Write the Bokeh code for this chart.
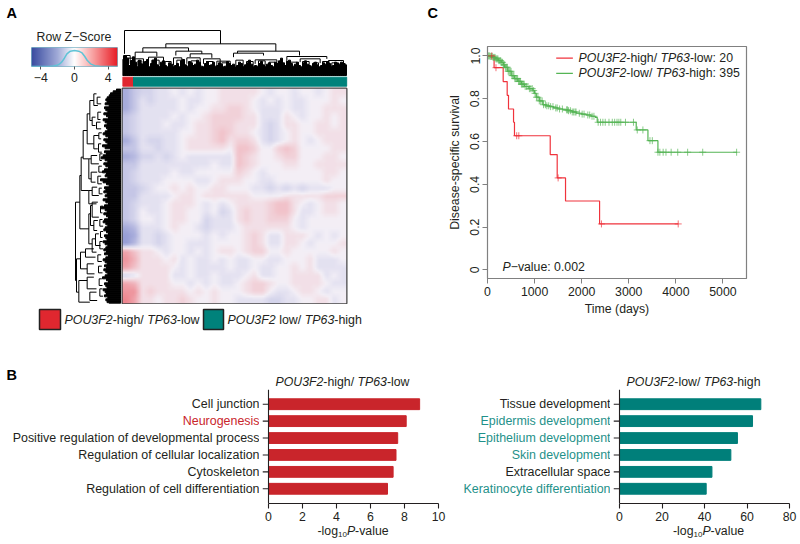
import numpy as np
from bokeh.core.properties import value
from bokeh.embed import file_html
from bokeh.resources import INLINE
from bokeh.layouts import column, row
from bokeh.models import FactorRange, FixedTicker, Label, LinearColorMapper, Range1d, Span
from bokeh.plotting import figure

FONT = "Liberation Sans"
INK = "#231f20"
RED_BAR = "#c9252b"
TEAL_BAR = "#007f7a"
TEAL_TXT = "#1f918a"

# ---------------- data ----------------
heat = [
[-5,-3,-2,-2,-1,-1,0,-1,0,-1,0,0,1,1, 1,1,1,0,-1,0,0,-1,0,0,-1,0,1,1],
[-5,-3,-1,-2,-1,-1,-1,0,-1,-1,0,0,1,1, 1,1,0,-1,0,-1,0,-1,-1,0,0,0,1,0],
[-5,-3,-1,-1,-1,-1,-1,0,-1,0,0,1,1,2, 2,1,0,-1,-1,-1,0,-1,-1,0,0,1,1,1],
[-3,-2,-1,-1,-1,-1,0,-1,0,0,1,2,2,2, 2,1,1,-1,-1,-1,1,0,-1,0,0,1,0,1],
[-3,-2,-1,-1,-1,0,-1,-1,0,1,1,2,2,2, 1,1,1,-1,-2,-1,1,1,0,0,1,1,0,1],
[-3,-2,-1,-1,-1,-1,-1,0,0,1,1,2,3,2, 1,1,0,-1,-2,-1,0,1,0,0,1,1,1,1],
[-5,-3,-1,-2,-2,-1,-1,0,1,1,1,2,3,1, 2,2,1,-1,-2,-1,0,1,0,-1,0,1,1,1],
[-3,-3,-1,-1,-2,-1,-1,0,1,1,1,1,1,0, 3,3,2,0,0,2,3,2,0,0,0,0,1,1],
[-5,-4,-2,-2,-1,-2,-1,0,-1,-1,-1,-1,-1,-1, 3,2,1,0,0,1,2,2,0,0,0,1,1,0],
[-3,-3,-1,-1,-1,-1,-1,-1,-1,-1,-1,0,-1,-1, 3,2,1,0,0,0,1,1,0,0,1,1,1,1],
[-3,-2,-1,-1,-1,-1,0,-1,-1,0,0,0,0,0, 2,1,0,-1,0,0,0,0,0,0,0,1,1,0],
[-3,-2,-1,-1,-1,0,0,0,0,-1,-1,0,1,1, 1,0,0,-1,-1,0,0,0,0,0,0,1,0,0],
[-3,-3,-2,-1,0,0,1,0,1,0,0,1,1,0, 0,0,-1,-1,-2,-1,-2,-1,-2,-1,-1,-1,0,0],
[-3,-3,-1,-1,-1,-1,0,1,1,0,1,1,1,1, 1,1,0,0,0,0,1,1,1,1,1,2,2,2],
[-3,-2,-1,-1,-1,0,1,1,1,0,-1,0,-1,0, 1,1,1,1,2,3,3,1,0,-1,0,1,1,0],
[-3,-2,0,-1,-1,0,1,1,0,0,-1,0,-2,-1, 1,2,1,1,2,3,3,1,-1,-1,0,1,1,0],
[-3,-2,0,0,-1,0,1,1,0,0,-2,-1,-1,-1, 1,2,1,1,2,2,2,0,-1,0,0,0,0,0],
[-5,-4,-1,-1,-1,0,1,0,0,-1,-2,-1,-1,-1, 0,1,1,1,1,1,1,0,-1,0,0,0,0,0],
[-6,-5,-1,-1,-2,-1,0,0,0,0,-1,0,-1,0, 0,1,2,1,-1,-1,1,1,1,0,-1,0,-1,0],
[-6,-4,-1,-1,-2,-1,0,0,-1,-1,-1,0,0,0, 0,1,2,1,-1,-1,1,1,0,-1,0,0,0,1],
[5,3,1,1,0,-1,0,0,-1,0,-1,0,1,1, 0,1,2,2,0,0,1,0,0,0,0,0,1,0],
[6,4,1,1,1,0,1,-1,0,-1,-1,0,-1,0, -1,-1,0,0,-1,-1,0,0,0,1,-1,-1,-1,0],
[5,3,1,1,1,1,0,-1,0,-1,-1,-1,-1,0, -1,-1,0,-1,-1,0,0,1,0,1,-1,-1,-1,-1],
[-2,-1,1,1,1,1,-1,-1,0,-1,-1,0,-1,-1, -1,0,1,-1,-1,0,0,1,1,1,1,-1,0,-1],
[5,4,1,1,1,1,0,0,-1,0,-1,0,-1,-1, 0,1,2,2,1,0,0,1,1,1,1,0,-1,-1],
[6,6,1,2,1,1,1,1,0,1,0,1,0,0, 0,1,2,2,0,-1,-1,0,1,1,0,-1,0,0],
[7,5,1,1,0,1,1,2,1,0,0,1,0,0, -1,-1,-1,-1,-2,-2,-1,-1,0,0,1,1,-1,0],
]

# top dendrogram: (left, right, height, left child height, right child height)
top_links = [
(6,294,135,65,95),(130,460,95,83,73),(61,198,83,70,73),(345,531,73,67,60),
(38,103,70,50,57),(160,238,73,60,65),(203,268,65,55,53),(333,423,67,55,60),
(493,613,57,40,50),(533,593,50,40,37),(618,663,45,35,35),(398,463,47,35,35),
(78,123,55,35,30),(193,233,53,35,35),(243,293,50,35,30),(3,23,60,30,35),
(38,63,50,35,30),(153,178,53,30,35),(283,323,43,30,25),
(12,30,52,34,30),(46,58,44,30,28),(88,110,46,30,32),(128,146,42,28,30),(163,186,46,30,28),
(206,222,44,28,30),(252,272,42,28,26),(298,316,38,26,28),(340,362,46,28,30),(372,392,42,28,26),
(408,428,44,28,30),(440,458,40,26,28),(502,524,40,28,30),(540,560,42,28,26),(572,588,38,28,26),
(600,620,42,26,28),(628,648,38,26,28),(652,668,36,26,26),
]
top_envelope = [48,60,52,30,45,56,40,28,46,35,30,42,48,26,36,46,52,32,28,40,44,30,26,38,
34,28,30,36,26,44,48,32,28,42,38,30,34,46,40,28,26,36,42,30,32,40,28,30,38,34,
26,28,42,36,30,34,26,30,40,36,28,32,38,46,34,26,30,28,36,42,32,28,34,38,30,26,
40,36,44,52,38,30,42,46,36,28,34,40,30,26,38,44,34,30,28,36,40,32,26,30,38,34,
42,36,28,30,40,36,32,40,36,32]

# left dendrogram: (height, top, bottom, top child height, bottom child height)
left_links = [
(135,340,575,122,132),(122,260,420,118,95),(118,205,305,112,95),(112,125,210,100,95),
(100,75,165,92,80),(92,35,95,80,85),(85,85,110,75,75),(80,15,50,72,68),
(80,140,180,65,68),(95,210,270,88,88),(88,200,225,70,65),(88,250,280,70,75),
(95,305,345,85,72),(85,295,320,70,65),(95,375,465,90,85),(90,350,410,85,80),
(85,340,385,68,65),(80,395,425,68,70),(85,450,490,75,72),(75,435,470,65,60),
(132,510,610,120,125),(120,490,540,105,100),(125,575,640,100,92),(105,480,505,80,75),
(100,525,555,80,78),(100,565,600,80,72),(92,610,635,72,70),
(70,25,45,60,58),(68,70,92,58,60),(72,100,120,60,58),(65,132,150,56,58),(66,165,190,58,56),
(62,195,215,54,56),(65,232,250,56,54),(68,262,285,58,56),(64,298,315,56,54),(60,352,372,52,54),
(62,392,412,54,52),(60,428,446,52,54),(62,458,480,54,52),(68,498,518,58,56),(66,532,552,56,54),
(64,570,590,56,54),(62,600,622,54,52),
]
left_envelope = [12,22,30,34,40,44,40,46,34,48,44,38,50,42,36,52,46,40,48,42,38,46,52,44,
36,50,44,38,54,46,30,48,42,52,58,46,38,50,44,36,48,54,42,46,38,60,52,42,34,48,44,
50,40,46,38,52,44,36,48,58,46,40,50,42,36,48,52,44,38,46,50,42,36,48,44,40,52,46,
38,44,50,42,48,36,44,52,46,40,48,42,50,44,38,46,54,42,36,48,44,40,52,46,42,48,38,44,40,34]

key_z = [-5.1,-3.2,-2.9,-2.5,-2.1,-1.8,-1.5,-1.2,-0.9,-0.5,0.0,0.5,0.9,1.2,1.5,1.9,2.4,3.0,5.1]
key_density = [0.0,0.0,0.01,0.03,0.07,0.14,0.28,0.50,0.76,0.93,0.97,0.93,0.82,0.62,0.38,0.16,0.05,0.01,0.0]
key_ticks = [-4, 0, 4]

red_x = [0,140,333,418,446,553,573,1332,1480,1657,2380,4050]
red_y = [1.0,0.945,0.88,0.816,0.752,0.69,0.627,0.539,0.43,0.322,0.215,0.215]
red_censor = [90,180,620,665,1500,2420,4050]

green_x = [0,50,114,170,230,291,340,362,430,503,570,645,720,787,880,965,1000,1034,1100,1176,1240,1318,1400,
           1495,1600,1708,1800,1885,2000,2097,2200,2288,2330,3158,3407,3619,5300]
green_y = [1.0,0.998,0.993,0.986,0.978,0.970,0.958,0.947,0.928,0.908,0.894,0.881,0.868,0.857,0.847,0.838,
           0.825,0.807,0.790,0.772,0.767,0.763,0.757,0.752,0.748,0.744,0.738,0.732,0.728,0.724,0.718,0.713,
           0.690,0.654,0.604,0.55,0.55]
green_censor = [20,40,60,80,100,120,140,160,180,200,220,240,260,280,300,320,340,360,380,400,420,440,460,480,
                500,520,540,560,580,600,620,640,660,680,700,720,740,760,780,800,830,860,890,920,950,980,1010,
                1040,1070,1100,1130,1160,1190,1230,1260,1300,1340,1390,1450,1480,1530,1590,1680,1700,1720,1760,
                1800,1830,1860,1880,1950,2010,2050,2130,2170,2220,2260,2350,2400,2450,2500,2580,2650,2700,2750,
                2790,2830,2930,3100,3180,3300,3450,3500,3620,3660,3730,3790,3900,4040,4250,4570,5290]
surv_xticks = [0,1000,2000,3000,4000,5000]
surv_yticks = [0,0.2,0.4,0.6,0.8,1.0]

terms_high = ["Cell junction","Neurogenesis","Positive regulation of developmental process",
              "Regulation of cellular localization","Cytoskeleton","Regulation of cell differentiation"]
vals_high = [8.89,8.1,7.6,7.5,7.33,7.0]
terms_low = ["Tissue development","Epidermis development","Epithelium development","Skin development",
             "Extracellular space","Keratinocyte differentiation"]
vals_low = [66.5,62.6,55.5,52.4,43.5,40.8]
highlight_high = ["Neurogenesis"]
highlight_low = ["Epidermis development","Epithelium development","Skin development","Keratinocyte differentiation"]

# ---------------- helpers ----------------
AFM = {' ':278,'-':333,'−':584,'/':278,':':278,'.':278,'0':556,'1':556,'2':556,'3':556,'5':556,'6':556,'9':556,'F':611,'O':778,'P':667,'T':611,'U':722,
       'a':556,'e':556,'g':556,'h':556,'i':222,'l':222,'o':556,'u':556,'v':500,'w':722}
def twidth(s, size):
    return sum(AFM.get(c, 556) for c in s) * size / 1000.0

class Box:
    """A figure plus where it sits on the page, so that page pixel positions can be used for labels."""
    def __init__(self, ox, oy, l, r, t, b, fw, fh, x_range=None, y_range=None, **kw):
        self.ox, self.oy, self.l, self.t, self.fh = ox, oy, l, t, fh
        self.p = figure(width=l+fw+r, height=t+fh+b, min_border_left=l, min_border_right=r,
                        min_border_top=t, min_border_bottom=b,
                        x_range=x_range if x_range is not None else Range1d(0, 1),
                        y_range=y_range if y_range is not None else Range1d(0, 1),
                        toolbar_location=None, output_backend="svg", outline_line_color=None,
                        background_fill_color="white", border_fill_color="white", **kw)
        self.p.frame_align = False
        self.p.grid.visible = False
    def text(self, X, Y, s, size=12.3, style="normal", color=INK, align="left", dy=0):
        lab = Label(x=X-self.ox-self.l, y=(self.oy+self.t+self.fh)-(Y+dy), x_units="screen", y_units="screen",
                    text=s, text_font=FONT, text_font_size=f"{size}px", text_font_style=style,
                    text_color=color, text_align=align, text_baseline="middle")
        self.p.add_layout(lab)
    def rich(self, X, Y, segs, size=12.3, color=INK):
        x = X
        for s in segs:
            txt, style = s[0], s[1]
            sz = s[2] if len(s) > 2 else size
            dy = s[3] if len(s) > 3 else 0
            lead = len(txt) - len(txt.lstrip(" "))
            x += twidth(" " * lead, sz)
            body = txt.strip(" ")
            self.text(x, Y, body, size=sz, style=style, color=color, dy=dy)
            x += twidth(txt.lstrip(" "), sz)

NOAX = dict(x_axis_location=None, y_axis_location=None)

def style_axis(ax, color=INK, size="12.3px", tick=5, standoff=3, line=1.0):
    ax.axis_line_color = color
    ax.axis_line_width = line
    ax.major_tick_line_color = color
    ax.major_tick_line_width = line
    ax.major_tick_out = tick
    ax.major_tick_in = 0
    ax.minor_tick_line_color = None
    ax.major_label_text_font = FONT
    ax.major_label_text_font_size = size
    ax.major_label_text_color = INK
    ax.major_label_standoff = standoff

def lerp_palette(stops, n=256):
    xs = np.linspace(0, 1, n)
    pos = [s[0] for s in stops]
    out = []
    for x in xs:
        c = [np.interp(x, pos, [s[1][k] for s in stops]) for k in range(3)]
        out.append("#%02x%02x%02x" % tuple(int(round(v)) for v in c))
    return out

def soften(m, k=4):
    """Display resampling of the coarse matrix, so that cell edges do not read as hard blocks."""
    m = np.array(m, dtype=float)
    ny, nx = m.shape
    yy = (np.arange(ny*k) + 0.5) / k - 0.5
    xx = (np.arange(nx*k) + 0.5) / k - 0.5
    a = np.array([np.interp(yy, np.arange(ny), m[:, j]) for j in range(nx)]).T
    return np.array([np.interp(xx, np.arange(nx), a[i, :]) for i in range(a.shape[0])])

# ---------------- colour key ----------------
strip_a = Box(0, 0, 0, 0, 0, 0, 121, 46, **NOAX)
strip_a.text(6, 12, "A", size=14.5, style="bold", color="black")
strip_a.text(36, 36, "Row Z−Score", size=12.3)

key = Box(0, 46, 31, 4, 1, 21, 86, 19, Range1d(-5.1, 5.1), Range1d(0, 1.15), y_axis_location=None)
key_pal = lerp_palette([(0,(58,76,160)),(0.30,(160,170,215)),(0.5,(255,255,255)),(0.72,(248,160,160)),(1,(232,30,40))])
grad = np.linspace(-5.1, 5.1, 86).reshape(1, -1)
key.p.image(image=[grad], x=-5.1, y=0, dw=10.2, dh=1.15,
            color_mapper=LinearColorMapper(palette=key_pal, low=-5.1, high=5.1))
key.p.line(key_z, key_density, line_color="#5fc3d6", line_width=1.5)
key.p.xaxis.ticker = FixedTicker(ticks=key_ticks)
key.p.xaxis.major_label_overrides = {-4: "−4", 0: "0", 4: "4"}
style_axis(key.p.xaxis[0], color="#555555", tick=3, standoff=3)
key.p.xaxis.axis_line_color = None
key.p.outline_line_color = "#7fb6c8"

# ---------------- top dendrogram and annotation bar ----------------
top = Box(121, 0, 1, 74, 0, 0, 225, 87, Range1d(0, 675), Range1d(-36, 225), **NOAX)
top.p.vbar(x=[3+6*i for i in range(len(top_envelope))], width=6, bottom=0, top=top_envelope, color="black")
xs, ys = [], []
for a, b, h, hl, hr in top_links:
    xs.append([a, a, b, b]); ys.append([hl, h, h, hr])
top.p.multi_line(xs, ys, line_color="black", line_width=1)
top.p.quad(left=[0, 33], right=[33, 673], bottom=[-32, -32], top=[-5, -5], color=["#e0272f", "#00827b"])

# ---------------- left dendrogram ----------------
ld = Box(0, 87, 0, 0, 1, 1, 121, 215, Range1d(360, -3), Range1d(644, -1), **NOAX)
ld.p.hbar(y=[3+6*i for i in range(len(left_envelope))], height=6, left=0, right=left_envelope, color="black")
xs, ys = [], []
for h, a, b, ha, hb in left_links:
    xs.append([ha, h, h, hb]); ys.append([a, a, b, b])
ld.p.multi_line(xs, ys, line_color="black", line_width=1)

# ---------------- heatmap ----------------
hm = Box(121, 87, 1, 74, 1, 1, 224, 215, Range1d(0, 28), Range1d(27, 0), **NOAX)
heat_pal = lerp_palette([(0,(30,50,170)),(0.5,(243,239,246)),(1,(232,30,40))])
hm.p.image(image=[soften(heat)], x=0, y=0, dw=28, dh=27,
           color_mapper=LinearColorMapper(palette=heat_pal, low=-14, high=14))
hm.p.outline_line_color = "#444444"
hm.p.outline_line_width = 2

# ---------------- legend under the heatmap ----------------
lg = Box(0, 304, 0, 0, 0, 0, 420, 36, Range1d(0, 420), Range1d(37, 1), **NOAX)
lg.p.quad(left=[39, 203], right=[60, 223], top=[6, 6], bottom=[26, 26], fill_color=["#e0272f", "#00827b"],
          line_color="#222222", line_width=1.5)
lg.rich(64, 319, [("POU3F2","italic"),("-high/ ","normal"),("TP63","italic"),("-low","normal")], size=12.4)
lg.rich(227, 319, [("POU3F2","italic"),(" low/ ","normal"),("TP63","italic"),("-high","normal")], size=12.4)

# ---------------- survival panel ----------------
GREY = "#808080"
strip_c = Box(420, 0, 0, 0, 0, 0, 380, 45, **NOAX)
strip_c.text(426, 12, "C", size=14.5, style="bold", color="black")

sv = Box(420, 45, 66, 55, 1, 62, 259, 232, Range1d(0, 5500), Range1d(-0.04, 1.044))
sv.p.step(green_x, green_y, mode="after", line_color="#55b555", line_width=1.2)
sv.p.step(red_x, red_y, mode="after", line_color="#f0333c", line_width=1.2)
gc_y = [green_y[int(np.searchsorted(green_x, x, side="right"))-1] for x in green_censor]
rc_y = [red_y[int(np.searchsorted(red_x, x, side="right"))-1] for x in red_censor]
sv.p.scatter(green_censor, gc_y, marker="cross", size=7, line_color="#55b555", line_alpha=0.7)
sv.p.scatter(red_censor, rc_y, marker="cross", size=7, line_color="#f0333c", line_alpha=0.7)
sv.p.segment(x0=[1459, 1459], x1=[1813, 1813], y0=[0.99, 0.918], y1=[0.99, 0.918],
             line_color=["#f0333c", "#55b555"], line_width=1.3)
sv.p.xaxis.ticker = FixedTicker(ticks=surv_xticks)
sv.p.yaxis.ticker = FixedTicker(ticks=surv_yticks)
sv.p.yaxis.major_label_overrides = {0: "0", 0.2: "0.2", 0.4: "0.4", 0.6: "0.6", 0.8: "0.8", 1.0: "1.0"}
for ax in (sv.p.xaxis[0], sv.p.yaxis[0]):
    style_axis(ax, color=GREY, tick=5, standoff=3)
sv.p.yaxis.major_label_orientation = "vertical"
sv.p.xaxis.axis_label = "Time (days)"
sv.p.yaxis.axis_label = "Disease-specific survival"
for ax in (sv.p.xaxis[0], sv.p.yaxis[0]):
    ax.axis_label_text_font = FONT
    ax.axis_label_text_font_size = "12.3px"
    ax.axis_label_text_font_style = "normal"
    ax.axis_label_text_color = INK
sv.p.xaxis.axis_label_standoff = 3
sv.p.yaxis.axis_label_standoff = 6
sv.p.outline_line_color = GREY
sv.p.outline_line_width = 1.2
sv.rich(577, 57.5, [("POU3F2","italic"),("-high/ ","normal"),("TP63","italic"),("-low: 20","normal")])
sv.rich(577, 72.5, [("POU3F2","italic"),("-low/ ","normal"),("TP63","italic"),("-high: 395","normal")])
sv.rich(501, 266.5, [("P","italic"),("−value: 0.002","normal")])

# ---------------- enrichment bars ----------------
def factors(terms):
    return FactorRange(factors=terms[::-1], range_padding=0.37, range_padding_units="absolute")

def bars(ox, label_w, r, terms, vals, xmax, ticks, color, hl, hl_color):
    names = Box(ox, 389, 0, 0, 0, 20, label_w, 114, Range1d(0, 1), factors(terms), **NOAX)
    names.p.text(x=[1]*len(terms), y=terms, text=terms,
                 text_color=[hl_color if t in hl else INK for t in terms],
                 text_align="right", text_baseline="middle",
                 text_font=value(FONT), text_font_size=value("12.45px"))
    # the frame starts 6 px left of zero, so that the category ticks can be drawn in data space
    pad = 6 * xmax / 170.0
    b = Box(ox+label_w, 389, 3, r, 0, 20, 176, 114, Range1d(-pad, xmax), factors(terms), y_axis_location=None)
    b.p.hbar(y=terms, right=vals, left=0, height=0.64, color=color)
    b.p.segment(x0=[-pad]*len(terms), x1=[0]*len(terms), y0=terms, y1=terms, line_color=INK, line_width=1.1)
    b.p.add_layout(Span(location=0, dimension="height", line_color=INK, line_width=1.1))
    b.p.xaxis.ticker = FixedTicker(ticks=ticks)
    b.p.xaxis.bounds = (0, xmax)
    style_axis(b.p.xaxis[0], tick=5, standoff=3, line=1.1)
    return row(names.p, b.p)

head1 = Box(0, 340, 0, 0, 0, 0, 450, 49, **NOAX)
head1.text(6, 374, "B", size=14.5, style="bold", color="black")
head1.rich(275, 381, [("POU3F2","italic"),("-high/ ","normal"),("TP63","italic"),("-low","normal")])
body1 = bars(0, 259, 12, terms_high, vals_high, 10, [0,2,4,6,8,10], RED_BAR, highlight_high, RED_BAR)
foot1 = Box(0, 523, 0, 0, 0, 0, 450, 21, **NOAX)
foot1.rich(317, 530.5, [("-log","normal"),("10","normal",8,3),("P","italic"),("-value","normal")])

head2 = Box(450, 340, 0, 0, 0, 0, 350, 49, **NOAX)
head2.rich(626, 381, [("POU3F2","italic"),("-low/ ","normal"),("TP63","italic"),("-high","normal")])
body2 = bars(450, 160, 11, terms_low, vals_low, 80, [0,20,40,60,80], TEAL_BAR, highlight_low, TEAL_TXT)
foot2 = Box(450, 523, 0, 0, 0, 0, 350, 21, **NOAX)
foot2.rich(672.5, 530.5, [("-log","normal"),("10","normal",8,3),("P","italic"),("-value","normal")])

left_block = column(row(column(strip_a.p, key.p), top.p), row(ld.p, hm.p), lg.p)
right_block = column(strip_c.p, sv.p)
page = column(row(left_block, right_block),
              row(column(head1.p, body1, foot1.p), column(head2.p, body2, foot2.p)))
open("out.html", "w").write(file_html(page, INLINE))
